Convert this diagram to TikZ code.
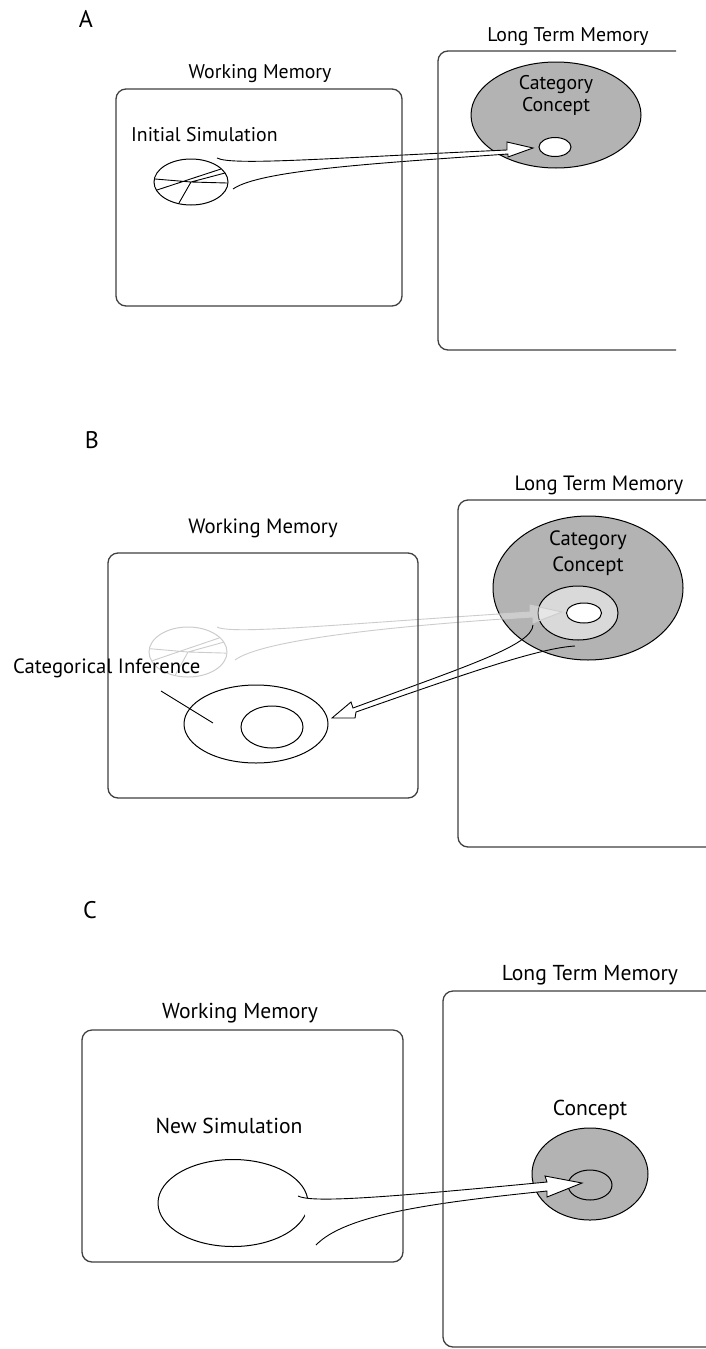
\documentclass[tikz,border=0pt]{standalone}
\usepackage{fontspec}
\setmainfont{PT Sans}
\usetikzlibrary{shapes.geometric}
\definecolor{boxc}{HTML}{404040}
\definecolor{conc}{HTML}{B3B3B3}
\definecolor{midc}{HTML}{D9D9D9}
\definecolor{fadec}{HTML}{CCCCCC}
\begin{document}
\begin{tikzpicture}[x=1pt,y=-1pt,
  box/.style={draw=boxc,line width=1.3pt,rounded corners=10pt},
  ell/.style={draw=black,line width=1pt,ellipse,inner sep=0pt},
  lbl/.style={inner sep=0pt,anchor=center},
  harrow/.style={draw=black,line width=0.9pt,fill=white,line join=miter},
  fsA/.style={font=\fontsize{19.8}{23}\selectfont},
  fsB/.style={font=\fontsize{20.7}{26}\selectfont},
  fsC/.style={font=\fontsize{21.6}{26}\selectfont},
  big/.style={font=\fontsize{24}{28}\selectfont}]
\useasboundingbox (0,0) rectangle (706,1349);
\fill[white] (0,0) rectangle (706,1349);

% ================= Panel A =================
\node[lbl,big] (labA) at (86,19) {A};
\node[ell,fill=conc,minimum width=170pt,minimum height=106pt] (catA) at (556,115) {};
\node[ell,fill=white,minimum width=32pt,minimum height=19pt] (smA) at (555,147) {};
% arrow A
\coordinate (aAu) at (217,158);
\coordinate (aAl) at (233,189);
\coordinate (tA) at (533,148);
\draw[harrow] (aAu) .. controls (232,166) and (330,158) .. (507,150) -- (507,142) -- (tA)
  -- (508,157) -- (508,154) .. controls (380,163) and (260,170) .. (aAl);
% pie A
\node[ell,minimum width=74pt,minimum height=46pt] (pieA) at (191,182) {};
\begin{scope}[shift={(pieA.center)}]
  \draw[line width=0.9pt] (-36,-3) -- (0,0) (-34,8) -- (30,-13) (0,0) -- (34,-9)
    (0,0) -- (36,1) (0,0) -- (-12,21);
\end{scope}
\node[box,minimum width=286pt,minimum height=217pt] (wmA) at (259,197.5) {};
\draw[box] (676,51) -- (438,51) -- (438,350) -- (676,350);
\coordinate (ltmA) at (438,200);
\node[lbl,fsA] (wmAl) at (260,74) {Working Memory};
\node[lbl,fsA] (ltmAl) at (568,37) {Long Term Memory};
\node[lbl,fsA,anchor=west] (isA) at (131,135) {Initial Simulation};
\node[lbl,fsA] (ccA1) at (556,85) {Category};
\node[lbl,fsA] (ccA2) at (556,106) {Concept};

% ================= Panel B =================
\node[lbl,big] (labB) at (92,440) {B};
\node[ell,fill=conc,minimum width=190pt,minimum height=144pt] (catB) at (588,588) {};
\node[ell,fill=midc,minimum width=80pt,minimum height=54pt] (midB) at (578,613) {};
\node[ell,fill=white,minimum width=35pt,minimum height=20pt] (inB) at (584,613) {};
% faded arrow B
\coordinate (fBu) at (217,627);
\coordinate (fBl) at (235,660);
\coordinate (tfB) at (562,612);
\draw[draw=fadec,line width=0.9pt,fill=white,fill opacity=0.35,line join=miter]
  (fBu) .. controls (232,635) and (340,624) .. (530,612) -- (530,605) -- (tfB)
  -- (533,623) -- (533,617) .. controls (390,626) and (262,640) .. (fBl);
% faded pie B
\node[ell,draw=fadec,minimum width=78pt,minimum height=50pt] (pieB) at (188,652) {};
\begin{scope}[shift={(pieB.center)},xscale=1.05,yscale=1.09]
  \draw[line width=0.9pt,fadec] (-36,-3) -- (0,0) (-34,8) -- (30,-13) (0,0) -- (34,-9)
    (0,0) -- (36,1) (0,0) -- (-12,21);
\end{scope}
% categorical inference
\node[ell,minimum width=144pt,minimum height=78pt] (ciO) at (256,724) {};
\node[ell,minimum width=62pt,minimum height=42pt] (ciI) at (272,727) {};
% back arrow
\coordinate (bBu) at (533,625);
\coordinate (bBl) at (575,646);
\coordinate (tbB) at (332,718);
\draw[draw=black,line width=0.9pt,line join=miter]
  (bBu) .. controls (532,645) and (470,665) .. (353,708) -- (351,702) -- (tbB)
  -- (355,718) -- (356,712) .. controls (470,672) and (540,648) .. (bBl);
\node[box,minimum width=310pt,minimum height=245pt] (wmB) at (263,675.5) {};
\draw[box] (706,500) -- (458,500) -- (458,847) -- (706,847);
\node[lbl,fsB] (wmBl) at (263,528) {Working Memory};
\node[lbl,fsB] (ltmBl) at (599,485) {Long Term Memory};
\node[lbl,fsB] (ccB1) at (588,540) {Category};
\node[lbl,fsB] (ccB2) at (588,566) {Concept};
\node[lbl,fsB,anchor=west] (ciL) at (13,668) {Categorical Inference};
\coordinate (ptr) at (213,723);
\draw[line width=0.9pt] (161,691) -- (ptr);

% ================= Panel C =================
\node[lbl,big] (labC) at (90,910) {C};
\node[ell,fill=conc,minimum width=116pt,minimum height=92pt] (conC) at (590,1174) {};
\node[ell,minimum width=44pt,minimum height=30pt] (inC) at (590,1185) {};
\node[ell,fill=white,minimum width=150pt,minimum height=87pt] (nsC) at (233,1203) {};
\coordinate (aCu) at (298,1196);
\coordinate (aCl) at (316,1245);
\coordinate (tC) at (582,1183);
\draw[harrow] (aCu) .. controls (312,1203) and (380,1198) .. (547,1182) -- (545,1176) -- (tC)
  -- (547,1197) -- (547,1191) .. controls (430,1203) and (345,1215) .. (aCl);
\node[box,minimum width=321pt,minimum height=232pt] (wmC) at (242.5,1146) {};
\draw[box] (706,991) -- (443,991) -- (443,1347) -- (706,1347);
\node[lbl,fsC] (wmCl) at (240,1013) {Working Memory};
\node[lbl,fsC] (ltmCl) at (590,975) {Long Term Memory};
\node[lbl,fsC] (conCl) at (590,1110) {Concept};
\node[lbl,fsC] (nsCl) at (229,1126) {New Simulation};
\end{tikzpicture}
\end{document}
